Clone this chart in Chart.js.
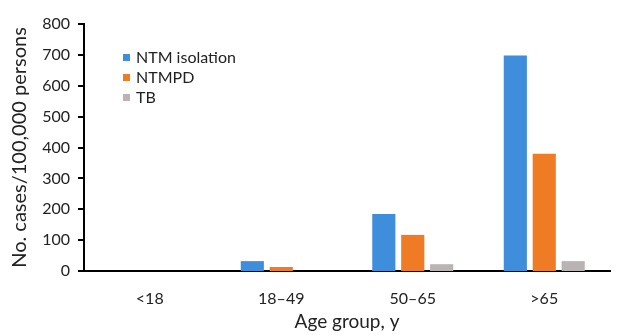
<!DOCTYPE html>
<html>
<head>
<meta charset="utf-8">
<script src="https://cdn.jsdelivr.net/npm/chart.js@4/dist/chart.umd.min.js"></script>
<style>
  html, body { margin: 0; padding: 0; background: #fff; }
  #wrap { width: 621px; height: 335px; }
</style>
</head>
<body>
<div id="wrap"><canvas id="ageChart" width="621" height="335"></canvas></div>
<script>
// values (cases / 100,000 persons)
const ageGroups = ['<18', '18\u201349', '50\u201365', '>65'];
const ntmIsolation = [0, 32, 185, 698];
const ntmpd = [0, 13, 117, 380];
const tb = [0, 0, 22, 32];
const yTicks = [0, 100, 200, 300, 400, 500, 600, 700, 800];

const FONT = 'Lato, "Open Sans", sans-serif';
const TEXT = '#222';

// legend sits inside the plot, top-left
const insideLegend = {
    id: 'insideLegend',
    afterDraw(chart) {
        const ctx = chart.ctx;
        ctx.save();
        ctx.font = '16px ' + FONT;
        ctx.textBaseline = 'middle';
        chart.data.datasets.forEach((ds, i) => {
            const y = 58 + i * 20;
            ctx.fillStyle = ds.backgroundColor;
            ctx.fillRect(123, y - 4, 7, 7);
            ctx.fillStyle = TEXT;
            ctx.fillText(ds.label, 136, y);
        });
        ctx.restore();
    }
};

// short outward tick marks on the y axis
const yTickMarks = {
    id: 'yTickMarks',
    afterDraw(chart) {
        const y = chart.scales.y;
        const ctx = chart.ctx;
        ctx.save();
        ctx.strokeStyle = '#000';
        ctx.lineWidth = 2;
        ctx.beginPath();
        yTicks.forEach(v => {
            const py = Math.round(y.getPixelForValue(v));
            ctx.moveTo(y.right - 6, py);
            ctx.lineTo(y.right, py);
        });
        ctx.stroke();
        ctx.restore();
    }
};

let ctx = document.getElementById('ageChart').getContext('2d');
let chart = new Chart(ctx, {
    type: 'bar',
    data: {
        labels: ageGroups,
        datasets: [
            { label: 'NTM isolation', data: ntmIsolation, backgroundColor: '#3f8edb' },
            { label: 'NTMPD', data: ntmpd, backgroundColor: '#f07b25' },
            { label: 'TB', data: tb, backgroundColor: '#b9b3b3' }
        ]
    },
    options: {
        responsive: false,
        animation: false,
        layout: { padding: { top: 24, right: 11, left: 0, bottom: 0 } },
        datasets: { bar: { categoryPercentage: 0.66, barPercentage: 0.8 } },
        scales: {
            x: {
                grid: { display: false },
                border: { display: true, color: '#000', width: 2 },
                ticks: { color: TEXT, font: { family: FONT, size: 16 }, padding: 10 },
                title: {
                    display: true, text: 'Age group, y', color: TEXT,
                    font: { family: FONT, size: 19 }, padding: { top: 2, bottom: 2 }
                },
                afterFit: s => { s.height = 64; }
            },
            y: {
                min: 0, max: 800,
                afterBuildTicks: s => { s.ticks = yTicks.map(v => ({ value: v })); },
                grid: { display: false, drawTicks: true, tickLength: 6 },
                border: { display: true, color: '#000', width: 2 },
                ticks: { color: TEXT, font: { family: FONT, size: 16 }, padding: 8 },
                title: {
                    display: true, text: 'No. cases/100,000 persons', color: TEXT,
                    font: { family: FONT, size: 20 }, padding: { top: 8, bottom: 4 }
                },
                afterFit: s => { s.width = 84; }
            }
        },
        plugins: {
            legend: { display: false },
            tooltip: { enabled: false }
        }
    },
    plugins: [insideLegend, yTickMarks]
});
</script>
</body>
</html>
